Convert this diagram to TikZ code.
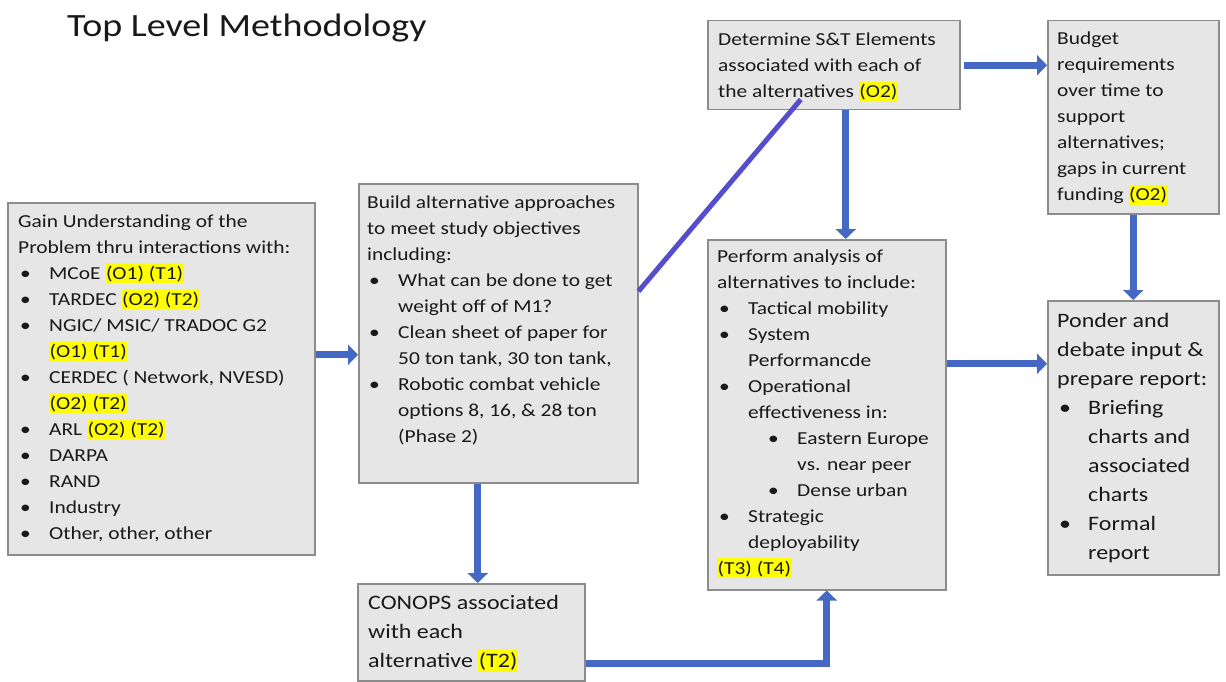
\documentclass[tikz,border=0pt]{standalone}
\usepackage{fontspec}
\setmainfont[FakeStretch=1.17]{Carlito}
\usetikzlibrary{arrows.meta}

\definecolor{flowblue}{RGB}{68,104,196}
\definecolor{diagblue}{RGB}{84,78,204}
\definecolor{boxfill}{RGB}{230,230,230}
\definecolor{boxline}{RGB}{140,140,140}
\definecolor{hlyellow}{RGB}{255,255,0}

% yellow marker behind objective / task tags
\newcommand\hlt[1]{{\setlength\fboxsep{0pt}\colorbox{hlyellow}{\rule[-0.22em]{0pt}{1.1em}\kern0.5pt#1\kern0.5pt}}}
% bullet items with hanging indent (\\ stays inside the paragraph)
\newcommand\itm[1]{\par\hangindent=31pt\hangafter=1\noindent\makebox[31pt][l]{\kern2pt\textbullet}#1}
\newcommand\subitm[1]{\par\hangindent=80pt\hangafter=1\noindent\kern51pt\makebox[29pt][l]{\textbullet}#1}
% text blocks, top-aligned on their first baseline
\newcommand\bodytext[2]{\parbox[t]{#1}{\fontsize{18.3}{26}\selectfont #2}}
\newcommand\bigtext[2]{\parbox[t]{#1}{\fontsize{20.5}{29}\selectfont #2}}

\begin{document}
\begin{tikzpicture}[x=1pt,y=-1pt,
  box/.style={draw=boxline, fill=boxfill, line width=1.5pt, inner sep=0pt, anchor=north west},
  txt/.style={anchor=base west, inner sep=0pt, text=black!90},
  flow/.style={draw=flowblue, line width=7pt, -{Triangle[width=20pt,length=10pt]}},
  diag/.style={draw=diagblue, line width=5pt}]

\fill[white] (0,0) rectangle (1226,682);
\useasboundingbox (0,0) rectangle (1226,682);

% title
\node[txt, font=\fontsize{32.5}{38}\selectfont] (title) at (67,37) {Top Level Methodology};

% boxes
\node[box, minimum width=307pt, minimum height=352pt] (A) at (7,202) {};
\node[box, minimum width=279pt, minimum height=299pt] (B) at (358,183) {};
\node[box, minimum width=227pt, minimum height=97pt]  (C) at (357,583) {};
\node[box, minimum width=252pt, minimum height=89pt]  (D) at (707,20) {};
\node[box, minimum width=171pt, minimum height=193pt] (E) at (1047,20) {};
\node[box, minimum width=238pt, minimum height=350pt] (F) at (707,239) {};
\node[box, minimum width=171pt, minimum height=274pt] (G) at (1047,300) {};

% box texts
\node[txt] (At) at (18,227) {\bodytext{295pt}{%
  Gain Understanding of the\\Problem thru interactions with:
  \itm{MCoE \hlt{(O1) (T1)}}
  \itm{TARDEC \hlt{(O2) (T2)}}
  \itm{NGIC/ MSIC/ TRADOC G2\\\hlt{(O1) (T1)}}
  \itm{CERDEC ( Network, NVESD)\\\hlt{(O2) (T2)}}
  \itm{ARL \hlt{(O2) (T2)}}
  \itm{DARPA}
  \itm{RAND}
  \itm{Industry}
  \itm{Other, other, other}}};

\node[txt] (Bt) at (367,208) {\bodytext{268pt}{%
  Build alternative approaches\\to meet study objectives\\including:
  \itm{What can be done to get\\weight off of M1?}
  \itm{Clean sheet of paper for\\50 ton tank, 30 ton tank,}
  \itm{Robotic combat vehicle\\options 8, 16, \& 28 ton\\(Phase 2)}}};

\node[txt] (Ct) at (368,609) {\bigtext{215pt}{%
  CONOPS associated\\with each\\alternative \hlt{(T2)}}};

\node[txt] (Dt) at (718,46) {\bodytext{240pt}{%
  Determine S\&T Elements\\associated with each of\\the alternatives \hlt{(O2)}}};

\node[txt] (Et) at (1057,45) {\bodytext{160pt}{%
  Budget\\requirements\\over time to\\support\\alternatives;\\gaps in current\\funding \hlt{(O2)}}};

\node[txt] (Ft) at (717,262) {\bodytext{228pt}{%
  Perform analysis of\\alternatives to include:
  \itm{Tactical mobility}
  \itm{System\\Performancde}
  \itm{Operational\\effectiveness in:}
  \subitm{Eastern Europe\\vs. near peer}
  \subitm{Dense urban}
  \itm{Strategic\\deployability}
  \par\noindent\hlt{(T3) (T4)}}};

\node[txt] (Gt) at (1057,327) {\bigtext{160pt}{%
  Ponder and\\debate input \&\\prepare report:
  \itm{Briefing\\charts and\\associated\\charts}
  \itm{Formal\\report}}};

% connectors
\path ([yshift=24pt]A.east) coordinate (a1);
\draw[flow] (a1) -- (a1 -| B.west);

\draw[diag] ([yshift=42pt]B.east) -- ([xshift=-33pt,yshift=11pt]D.south);

\path ([xshift=-20.5pt]B.south) coordinate (b1);
\draw[flow] (b1) -- (b1 |- C.north);

\path ([yshift=-31.5pt]C.east) coordinate (c1);
\draw[flow] (c1) -| (F.south);

\path ([xshift=3pt]D.east) coordinate (d1);
\draw[flow] (d1) -- (d1 -| E.west);

\path ([xshift=12pt]D.south) coordinate (d2);
\draw[flow] (d2) -- (d2 |- F.north);

\draw[flow] (E.south) -- (E.south |- G.north);

\path ([yshift=51pt]F.east) coordinate (f1);
\draw[flow] (f1) -- (f1 -| G.west);

\end{tikzpicture}
\end{document}
